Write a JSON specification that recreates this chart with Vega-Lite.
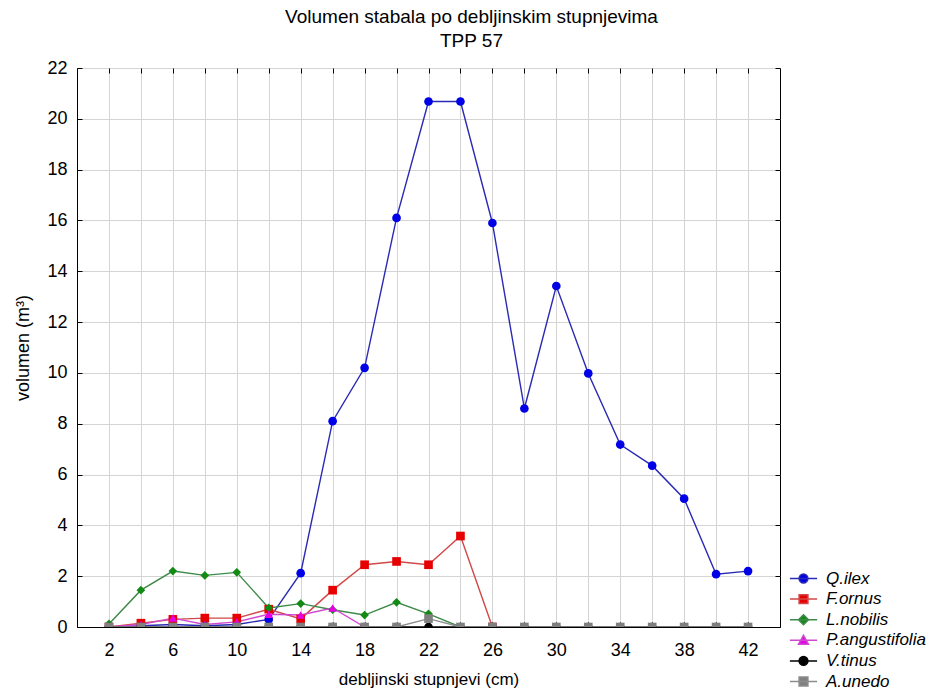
{
  "$schema": "https://vega.github.io/schema/vega-lite/v6.json",
  "width": 703,
  "height": 559,
  "autosize": {"type": "none"},
  "padding": {"left": 77, "top": 68, "right": 152, "bottom": 63},
  "background": "white",
  "title": {
    "text": ["Volumen stabala po debljinskim stupnjevima", "TPP 57"],
    "font": "Liberation Sans",
    "fontSize": 19,
    "fontWeight": "normal",
    "lineHeight": 24,
    "offset": 8,
    "dx": 43,
    "anchor": "middle",
    "color": "#000000"
  },
  "config": {
    "view": {"stroke": "#000000", "strokeWidth": 1},
    "axis": {
      "labelFont": "Liberation Sans",
      "titleFont": "Liberation Sans",
      "labelFontSize": 18,
      "titleFontSize": 17,
      "titleFontWeight": "normal",
      "labelColor": "#000000",
      "titleColor": "#000000",
      "domainColor": "#000000",
      "tickColor": "#000000",
      "gridColor": "#d4d4d4",
      "gridWidth": 1
    }
  },
  "data": {
    "values": [
      {"d": 2, "s": "Q.ilex", "v": 0},
      {"d": 4, "s": "Q.ilex", "v": 0.05},
      {"d": 6, "s": "Q.ilex", "v": 0.1},
      {"d": 8, "s": "Q.ilex", "v": 0.05},
      {"d": 10, "s": "Q.ilex", "v": 0.1},
      {"d": 12, "s": "Q.ilex", "v": 0.3},
      {"d": 14, "s": "Q.ilex", "v": 2.12},
      {"d": 16, "s": "Q.ilex", "v": 8.1},
      {"d": 18, "s": "Q.ilex", "v": 10.2},
      {"d": 20, "s": "Q.ilex", "v": 16.1},
      {"d": 22, "s": "Q.ilex", "v": 20.68},
      {"d": 24, "s": "Q.ilex", "v": 20.68},
      {"d": 26, "s": "Q.ilex", "v": 15.9},
      {"d": 28, "s": "Q.ilex", "v": 8.6},
      {"d": 30, "s": "Q.ilex", "v": 13.42},
      {"d": 32, "s": "Q.ilex", "v": 9.98},
      {"d": 34, "s": "Q.ilex", "v": 7.18},
      {"d": 36, "s": "Q.ilex", "v": 6.35},
      {"d": 38, "s": "Q.ilex", "v": 5.05},
      {"d": 40, "s": "Q.ilex", "v": 2.08},
      {"d": 42, "s": "Q.ilex", "v": 2.2},
      {"d": 2, "s": "F.ornus", "v": 0},
      {"d": 4, "s": "F.ornus", "v": 0.15},
      {"d": 6, "s": "F.ornus", "v": 0.3},
      {"d": 8, "s": "F.ornus", "v": 0.35},
      {"d": 10, "s": "F.ornus", "v": 0.35},
      {"d": 12, "s": "F.ornus", "v": 0.7},
      {"d": 14, "s": "F.ornus", "v": 0.32},
      {"d": 16, "s": "F.ornus", "v": 1.45},
      {"d": 18, "s": "F.ornus", "v": 2.45},
      {"d": 20, "s": "F.ornus", "v": 2.58},
      {"d": 22, "s": "F.ornus", "v": 2.45},
      {"d": 24, "s": "F.ornus", "v": 3.58},
      {"d": 26, "s": "F.ornus", "v": 0},
      {"d": 2, "s": "L.nobilis", "v": 0.12},
      {"d": 4, "s": "L.nobilis", "v": 1.45},
      {"d": 6, "s": "L.nobilis", "v": 2.2},
      {"d": 8, "s": "L.nobilis", "v": 2.03},
      {"d": 10, "s": "L.nobilis", "v": 2.15},
      {"d": 12, "s": "L.nobilis", "v": 0.75},
      {"d": 14, "s": "L.nobilis", "v": 0.92},
      {"d": 16, "s": "L.nobilis", "v": 0.68},
      {"d": 18, "s": "L.nobilis", "v": 0.47},
      {"d": 20, "s": "L.nobilis", "v": 0.97},
      {"d": 22, "s": "L.nobilis", "v": 0.52},
      {"d": 24, "s": "L.nobilis", "v": 0},
      {"d": 2, "s": "P.angustifolia", "v": 0},
      {"d": 4, "s": "P.angustifolia", "v": 0.1},
      {"d": 6, "s": "P.angustifolia", "v": 0.35},
      {"d": 8, "s": "P.angustifolia", "v": 0.1},
      {"d": 10, "s": "P.angustifolia", "v": 0.2},
      {"d": 12, "s": "P.angustifolia", "v": 0.5},
      {"d": 14, "s": "P.angustifolia", "v": 0.47},
      {"d": 16, "s": "P.angustifolia", "v": 0.75},
      {"d": 18, "s": "P.angustifolia", "v": 0},
      {"d": 2, "s": "V.tinus", "v": 0},
      {"d": 4, "s": "V.tinus", "v": 0},
      {"d": 6, "s": "V.tinus", "v": 0},
      {"d": 8, "s": "V.tinus", "v": 0},
      {"d": 10, "s": "V.tinus", "v": 0},
      {"d": 12, "s": "V.tinus", "v": 0},
      {"d": 14, "s": "V.tinus", "v": 0},
      {"d": 16, "s": "V.tinus", "v": 0},
      {"d": 18, "s": "V.tinus", "v": 0},
      {"d": 20, "s": "V.tinus", "v": 0},
      {"d": 22, "s": "V.tinus", "v": 0},
      {"d": 24, "s": "V.tinus", "v": 0},
      {"d": 26, "s": "V.tinus", "v": 0},
      {"d": 28, "s": "V.tinus", "v": 0},
      {"d": 30, "s": "V.tinus", "v": 0},
      {"d": 32, "s": "V.tinus", "v": 0},
      {"d": 34, "s": "V.tinus", "v": 0},
      {"d": 36, "s": "V.tinus", "v": 0},
      {"d": 38, "s": "V.tinus", "v": 0},
      {"d": 40, "s": "V.tinus", "v": 0},
      {"d": 42, "s": "V.tinus", "v": 0},
      {"d": 2, "s": "A.unedo", "v": 0},
      {"d": 4, "s": "A.unedo", "v": 0},
      {"d": 6, "s": "A.unedo", "v": 0},
      {"d": 8, "s": "A.unedo", "v": 0},
      {"d": 10, "s": "A.unedo", "v": 0},
      {"d": 12, "s": "A.unedo", "v": 0},
      {"d": 14, "s": "A.unedo", "v": 0},
      {"d": 16, "s": "A.unedo", "v": 0},
      {"d": 18, "s": "A.unedo", "v": 0},
      {"d": 20, "s": "A.unedo", "v": 0},
      {"d": 22, "s": "A.unedo", "v": 0.33},
      {"d": 24, "s": "A.unedo", "v": 0},
      {"d": 26, "s": "A.unedo", "v": 0},
      {"d": 28, "s": "A.unedo", "v": 0},
      {"d": 30, "s": "A.unedo", "v": 0},
      {"d": 32, "s": "A.unedo", "v": 0},
      {"d": 34, "s": "A.unedo", "v": 0},
      {"d": 36, "s": "A.unedo", "v": 0},
      {"d": 38, "s": "A.unedo", "v": 0},
      {"d": 40, "s": "A.unedo", "v": 0},
      {"d": 42, "s": "A.unedo", "v": 0}
    ]
  },
  "layer": [
    {
      "mark": {"type": "line", "strokeWidth": 1.4, "clip": true},
      "encoding": {
        "x": {
          "field": "d", "type": "quantitative",
          "scale": {"domain": [0, 44], "nice": false, "zero": false},
          "axis": {"orient": "top", "labels": false, "grid": false, "domain": false, "title": null,
                   "values": [2,4,6,8,10,12,14,16,18,20,22,24,26,28,30,32,34,36,38,40,42], "tickSize": -5}
        },
        "y": {
          "field": "v", "type": "quantitative",
          "scale": {"domain": [0, 22], "nice": false},
          "axis": {"orient": "right", "labels": false, "grid": false, "domain": false, "title": null,
                   "values": [0,2,4,6,8,10,12,14,16,18,20,22], "tickSize": -5}
        },
        "color": {
          "field": "s", "type": "nominal",
          "scale": {"domain": ["Q.ilex", "F.ornus", "L.nobilis", "P.angustifolia", "V.tinus", "A.unedo"],
                    "range": ["#2a2ab4", "#d04848", "#3c8a48", "#d048d0", "#000000", "#8c8c8c"]},
          "legend": null
        }
      }
    },
    {
      "mark": {"type": "point", "filled": true, "opacity": 1, "size": 75, "clip": true},
      "encoding": {
        "x": {
          "field": "d", "type": "quantitative",
          "scale": {"domain": [0, 44], "nice": false, "zero": false},
          "axis": {"orient": "bottom", "grid": true, "title": "debljinski stupnjevi (cm)",
                   "values": [2,4,6,8,10,12,14,16,18,20,22,24,26,28,30,32,34,36,38,40,42],
                   "labelExpr": "datum.value % 4 === 2 ? datum.label : ''",
                   "tickSize": -5, "labelPadding": 19, "titlePadding": 12, "labelFlush": false}
        },
        "y": {
          "field": "v", "type": "quantitative",
          "scale": {"domain": [0, 22], "nice": false},
          "axis": {"orient": "left", "grid": true, "title": "volumen (m³)", "titleFontSize": 18,
                   "values": [0,2,4,6,8,10,12,14,16,18,20,22],
                   "tickSize": -5, "labelPadding": 15, "titlePadding": 14, "labelFlush": false}
        },
        "color": {
          "field": "s", "type": "nominal",
          "scale": {"domain": ["Q.ilex", "F.ornus", "L.nobilis", "P.angustifolia", "V.tinus", "A.unedo"],
                    "range": ["#0000e6", "#e60000", "#138a13", "#e600e6", "#000000", "#808080"]},
          "legend": null
        },
        "shape": {
          "field": "s", "type": "nominal",
          "scale": {"domain": ["Q.ilex", "F.ornus", "L.nobilis", "P.angustifolia", "V.tinus", "A.unedo"],
                    "range": ["circle", "square", "diamond", "triangle-up", "circle", "square"]},
          "legend": null
        }
      }
    },
    {
      "transform": [{"filter": "datum.d < 0"}],
      "mark": {"type": "point", "filled": true, "opacity": 1, "size": 64, "clip": true},
      "encoding": {
        "x": {"field": "d", "type": "quantitative", "scale": {"domain": [0, 44], "nice": false, "zero": false}, "axis": null},
        "y": {"field": "v", "type": "quantitative", "scale": {"domain": [0, 22], "nice": false}, "axis": null},
        "fill": {
          "field": "s", "type": "nominal",
          "scale": {"domain": ["Q.ilex", "F.ornus", "L.nobilis", "P.angustifolia", "V.tinus", "A.unedo"],
                    "range": ["#0000e6", "#e60000", "#138a13", "#e600e6", "#000000", "#808080"]},
          "legend": {
            "title": null,
            "orient": "none",
            "legendX": 718,
            "legendY": 502,
            "labelFont": "Liberation Sans",
            "labelFontSize": 17,
            "labelFontStyle": "italic",
            "labelColor": "#000000",
            "symbolSize": 64,
            "symbolOpacity": 1,
            "symbolStrokeWidth": 1.5,
            "labelOffset": 14,
            "rowPadding": 2.6
          }
        },
        "stroke": {
          "field": "s", "type": "nominal",
          "scale": {"domain": ["Q.ilex", "F.ornus", "L.nobilis", "P.angustifolia", "V.tinus", "A.unedo"],
                    "range": ["#2a2ab4", "#d04848", "#3c8a48", "#d048d0", "#000000", "#8c8c8c"]}
        },
        "shape": {
          "field": "s", "type": "nominal",
          "scale": {"domain": ["Q.ilex", "F.ornus", "L.nobilis", "P.angustifolia", "V.tinus", "A.unedo"],
                    "range": [
                      "M-3.4,0H3.4M-1.1,0A1.1,1.1,0,1,0,1.1,0A1.1,1.1,0,1,0,-1.1,0Z",
                      "M-3.4,0H3.4M-1.1,-1.1H1.1V1.1H-1.1Z",
                      "M-3.4,0H3.4M0,-1.25L1.25,0L0,1.25L-1.25,0Z",
                      "M-3.4,0H3.4M0,-1.25L1.25,1H-1.25Z",
                      "M-3.4,0H3.4M-1.1,0A1.1,1.1,0,1,0,1.1,0A1.1,1.1,0,1,0,-1.1,0Z",
                      "M-3.4,0H3.4M-1.1,-1.1H1.1V1.1H-1.1Z"
                    ]}
        }
      }
    }
  ],
  "resolve": {
    "scale": {"color": "independent", "shape": "independent", "fill": "independent", "stroke": "independent"},
    "axis": {"x": "independent", "y": "independent"}
  }
}
